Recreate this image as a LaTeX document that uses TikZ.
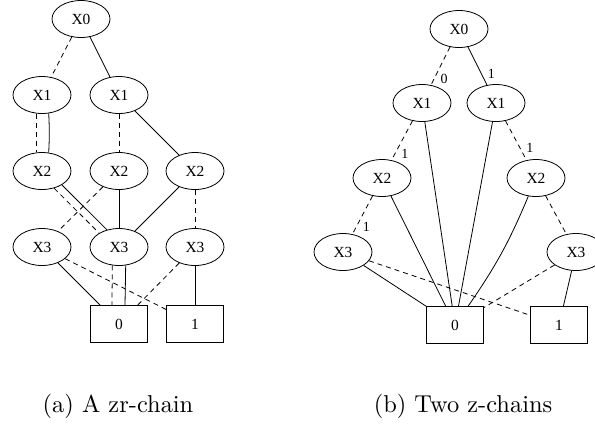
\documentclass[tikz,border=0pt]{standalone}
\usepackage{fontspec}
\newfontfamily\gv{Liberation Serif}
\usetikzlibrary{shapes.geometric}
\begin{document}
\begin{tikzpicture}[x=1bp,y=-1bp,
  every node/.style={font=\gv\fontsize{15.5}{18}\selectfont},
  var/.style={ellipse,draw,line width=0.8bp,minimum width=58bp,minimum height=37bp,inner sep=0pt},
  term/.style={rectangle,draw,line width=0.8bp,minimum width=57bp,minimum height=37bp,inner sep=0pt},
  hi/.style={line width=0.8bp},
  lo/.style={line width=0.8bp,dash pattern=on 5bp off 4bp},
  lbl/.style={font=\gv\fontsize{14}{16}\selectfont,inner sep=0pt},
  captext/.style={font=\rmfamily\fontsize{10}{12}\selectfont,anchor=base,inner sep=0pt}
]
\useasboundingbox (0,0) rectangle (595,425);
% ---------- (a) ----------
\node[var] (a0) at (81,19) {X0};
\node[var] (a1l) at (42,95) {X1};
\node[var] (a1r) at (119,95) {X1};
\node[var] (a2l) at (42,171) {X2};
\node[var] (a2m) at (119,171) {X2};
\node[var] (a2r) at (195,171) {X2};
\node[var] (a3l) at (42,247) {X3};
\node[var] (a3m) at (119,247) {X3};
\node[var] (a3r) at (195,247) {X3};
\node[term] (ab0) at (119,324) {0};
\node[term] (ab1) at (195,324) {1};
\draw[lo] (a0) -- (a1l);
\draw[hi] (a0) -- (a1r);
\draw[lo] (a1l.-107) -- (a2l.107);
\draw[hi] (a1l.-70) to[bend left=3] (a2l.70);
\draw[lo] (a1r) -- (a2m);
\draw[hi] (a1r) -- (a2r);
\draw[lo] (a2l.-55) -- (a3m.145);
\draw[hi] (a2l.-35) -- (a3m.125);
\draw[lo] (a2m) -- (a3l);
\draw[hi] (a2m) -- (a3m);
\draw[hi] (a2r) -- (a3m);
\draw[lo] (a2r) -- (a3r);
\draw[hi] (a3l) -- (ab0);
\draw[lo] (a3l) -- (ab1);
\draw[lo] (a3m.-110) -- ([xshift=-7bp]ab0.north);
\draw[hi] (a3m.-70) -- ([xshift=6bp]ab0.north);
\draw[lo] (a3r) -- (ab0);
\draw[hi] (a3r) -- (ab1);
% ---------- (b) ----------
\node[var] (b0) at (459,29) {X0};
\node[var] (b1l) at (422,103) {X1};
\node[var] (b1r) at (496,103) {X1};
\node[var] (b2l) at (382,178) {X2};
\node[var] (b2r) at (536,178) {X2};
\node[var] (b3l) at (343,252) {X3};
\node[var] (b3r) at (576,252) {X3};
\node[term] (bb0) at (455,325) {0};
\node[term] (bb1) at (559,325) {1};
\draw[lo] (b0) -- node[lbl,pos=0.83,xshift=10bp]{0} (b1l);
\draw[hi] (b0) -- node[lbl,pos=0.7,xshift=10bp]{1} (b1r);
\draw[lo] (b1l) -- node[lbl,pos=0.84,xshift=10bp]{1} (b2l);
\draw[hi] (b1l) -- (bb0);
\draw[hi] (b1r) -- (bb0);
\draw[lo] (b1r) -- node[lbl,pos=0.69,xshift=10bp]{1} (b2r);
\draw[lo] (b2l) -- node[lbl,pos=0.81,xshift=10bp]{1} (b3l);
\draw[hi] (b2l) -- (bb0);
\draw[hi] (b2r) to[bend left=6] (bb0);
\draw[lo] (b2r) -- (b3r);
\draw[hi] (b3l) -- (bb0);
\draw[lo] (b3l) -- (bb1);
\draw[lo] (b3r) -- (bb0);
\draw[hi] (b3r) -- (bb1);
% ---------- captions ----------
\node[captext] (capa) at (118,412) {\scalebox{2.45}{(a) A zr-chain}};
\node[captext] (capb) at (463,412) {\scalebox{2.45}{(b) Two z-chains}};
\end{tikzpicture}
\end{document}
